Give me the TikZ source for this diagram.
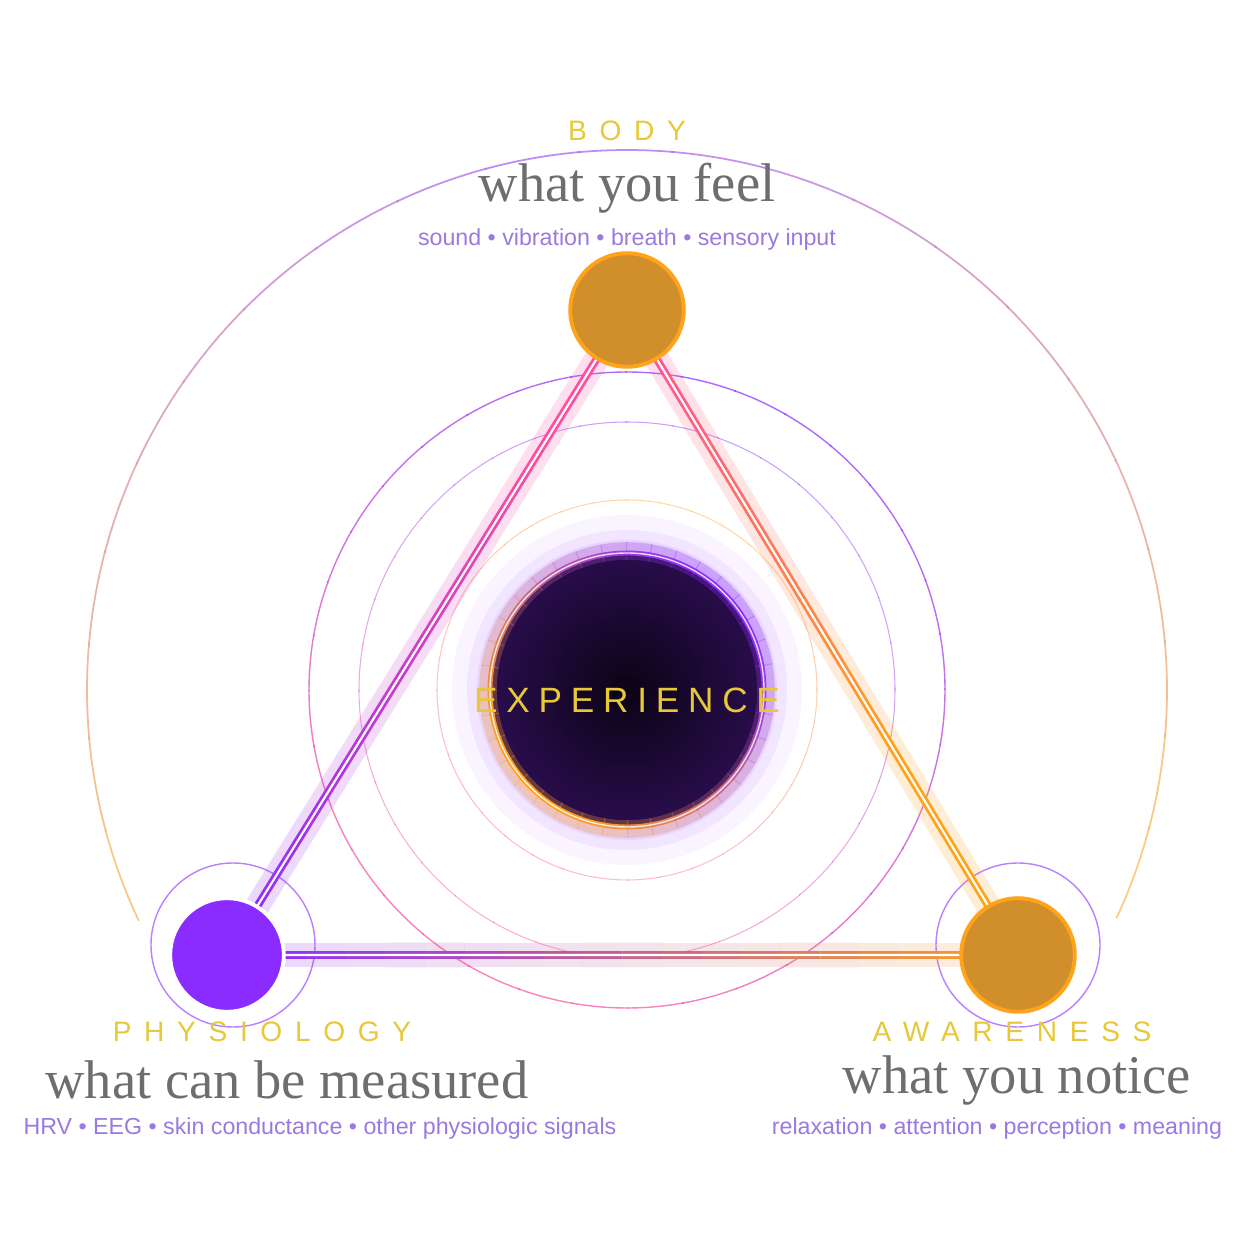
\documentclass[tikz,border=0pt]{standalone}
\usetikzlibrary{calc}
\usepackage{fontspec}
\setmainfont{Liberation Serif}
\setsansfont{Liberation Sans}
\newfontfamily\capfont[LetterSpace=45]{Liberation Sans}
\newfontfamily\expfont[LetterSpace=25]{Liberation Sans}
\definecolor{vio}{HTML}{8A2BFF}
\definecolor{org}{HTML}{FFA31A}
\definecolor{pnk}{HTML}{FF4FA0}
\definecolor{gold}{HTML}{E6C83A}
\definecolor{lav}{HTML}{9A7AE0}
\definecolor{txtg}{HTML}{6E6E6E}
\begin{document}
\begin{tikzpicture}[x={(0.01cm,0)},y={(0,0.01cm)},
  captext/.style={font=\capfont\fontsize{8}{9}\selectfont, text=gold},
  bigtext/.style={font=\fontsize{15.5}{17}\selectfont, text=txtg},
  subtext/.style={font=\sffamily\fontsize{6.6}{8}\selectfont, text=lav},
  vtx/.style={circle, minimum size=40*0.0284cm, inner sep=0pt, line width=1.1pt, draw=white}]
\fill[white] (0,0) rectangle (1254,1254);
\coordinate (C) at (627,564);
% outer arc
\foreach \a in {-25,-15,...,196}{
  \pgfmathsetmacro\t{max(0,min(100,abs(\a-90)*0.9))}
  \draw[line width=0.5pt, draw=org!\t!vio!70!white, opacity=0.8] ($(C)+(\a:540)$) arc (\a:\a+10.3:540);
}
% rings
\foreach \a in {0,10,...,350}{
  \pgfmathsetmacro\t{50+50*cos(\a-60)}
  \draw[line width=0.4pt, draw=vio!\t!pnk, opacity=0.7] ($(C)+(\a:318)$) arc (\a:\a+10.3:318);
  \draw[line width=0.3pt, draw=vio!\t!pnk, opacity=0.45] ($(C)+(\a:268)$) arc (\a:\a+10.3:268);
  \draw[line width=0.3pt, draw=org!\t!pnk, opacity=0.4] ($(C)+(\a:190)$) arc (\a:\a+10.3:190);
}
\draw[vio!60, line width=0.4pt] (233,309) circle (82);
\draw[vio!60, line width=0.4pt] (1018,309) circle (82);
% central disc
\foreach \r/\o in {175/0.05,160/0.07,150/0.09}{\fill[vio,opacity=\o] (C) circle (\r);}
\shade[inner color=black!92!vio, outer color=black!70!vio] (C) circle (137);
\foreach \a in {0,10,...,350}{
  \pgfmathsetmacro\t{50+50*cos(\a-40)}
  \draw[line width=5pt, draw=vio!\t!org, opacity=0.3] ($(C)+(\a:139)$) arc (\a:\a+10.5:139);
  \draw[line width=1.4pt, draw=vio!\t!org] ($(C)+(\a:137)$) arc (\a:\a+10.5:137);
}
\draw[white,line width=0.4pt,opacity=0.8] (C) circle (137);
\node[font=\expfont\fontsize{10}{12}\selectfont, text=gold] (exp) at (627,554) {EXPERIENCE};
% triangle
\coordinate (T) at (627,944);
\coordinate (L) at (227,299);
\coordinate (R) at (1018,299);
\foreach \i in {0,...,19}{
  \pgfmathsetmacro\s{\i/20}\pgfmathsetmacro\e{(\i+1)/20}
  \pgfmathsetmacro\u{min(100,\i*5*1.3)}
  \draw[line width=7pt, draw=pnk!\u!vio, opacity=0.18] ($(L)!\s!(T)$) -- ($(L)!\e!(T)$);
  \draw[line width=2.2pt, draw=pnk!\u!vio] ($(L)!\s!(T)$) -- ($(L)!\e!(T)$);
  \pgfmathsetmacro\v{max(0,100-\i*5*1.5)}
  \draw[line width=7pt, draw=pnk!\v!org, opacity=0.18] ($(T)!\s!(R)$) -- ($(T)!\e!(R)$);
  \draw[line width=2.2pt, draw=pnk!\v!org] ($(T)!\s!(R)$) -- ($(T)!\e!(R)$);
  \pgfmathsetmacro\w{100-\i*5}
  \draw[line width=7pt, draw=vio!\w!org, opacity=0.18] ($(L)!\s!(R)$) -- ($(L)!\e!(R)$);
  \draw[line width=2.2pt, draw=vio!\w!org] ($(L)!\s!(R)$) -- ($(L)!\e!(R)$);
}
\draw[white, line width=0.6pt] (L) -- (T) -- (R) -- cycle;
% vertices
\fill[vio,opacity=0.25] (L) circle (34);
\node[vtx, fill=vio] (nL) at (L) {};
\fill[org,opacity=0.25] (T) circle (30);
\node[vtx, fill=org!80!black!90, draw=org] (nT) at (T) {};
\fill[org,opacity=0.25] (R) circle (30);
\node[vtx, fill=org!80!black!90, draw=org] (nR) at (R) {};
% texts
\node[captext] (b1) at (627,1123) {BODY};
\node[bigtext] (b2) at (627,1066) {what you feel};
\node[subtext] (b3) at (627,1014) {sound \textbullet\ vibration \textbullet\ breath \textbullet\ sensory input};
\node[captext] (p1) at (262,222) {PHYSIOLOGY};
\node[bigtext] (p2) at (287,174) {what can be measured};
\node[subtext] (p3) at (320,126) {HRV \textbullet\ EEG \textbullet\ skin conductance \textbullet\ other physiologic signals};
\node[captext] (a1) at (1012,222) {AWARENESS};
\node[bigtext] (a2) at (1017,174) {what you notice};
\node[subtext] (a3) at (997,126) {relaxation \textbullet\ attention \textbullet\ perception \textbullet\ meaning};
\end{tikzpicture}
\end{document}
